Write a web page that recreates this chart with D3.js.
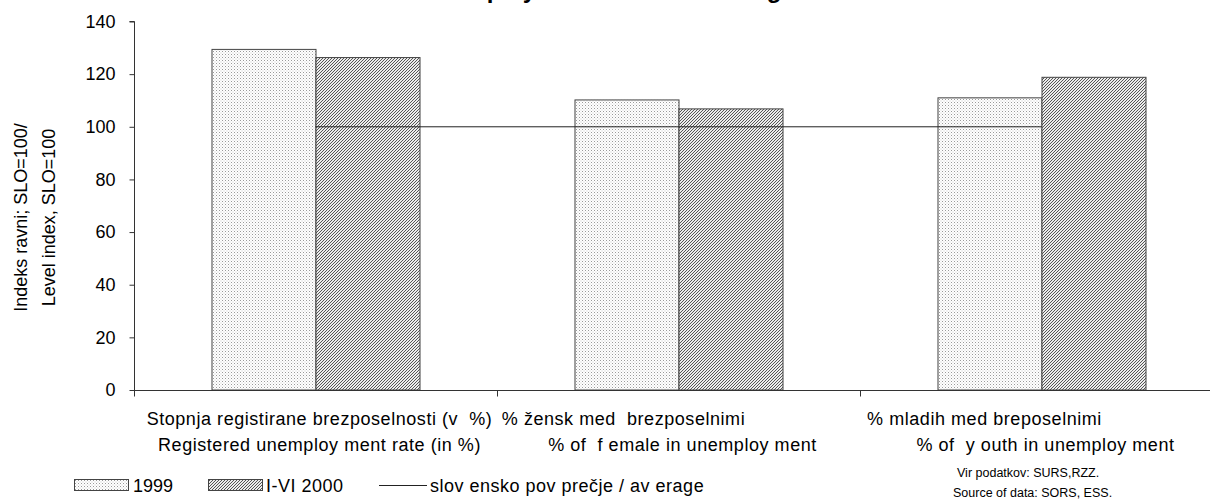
<!DOCTYPE html>
<html>
<head>
<meta charset="utf-8">
<script src="https://cdn.jsdelivr.net/npm/d3@7/dist/d3.min.js"></script>
<style>
  html, body { margin: 0; padding: 0; background: #fff; }
  svg { display: block; font-family: Arial, "Liberation Sans", sans-serif; }
  text { white-space: pre; }
</style>
</head>
<body>
<svg id="chart" width="1210" height="502"></svg>
<script>
// ---- data ----
const categories = ["stopnja", "zenske", "mladi"];
const labelsLine1 = [
  "Stopnja registirane brezposelnosti (v  %)",
  "% žensk med  brezposelnimi",
  "% mladih med breposelnimi"
];
const labelsLine2 = [
  "Registered unemploy ment rate (in %)",
  "% of  f emale in unemploy ment",
  "% of  y outh in unemploy ment"
];
const seriesNames = ["1999", "I-VI 2000"];
const values1999 = [129.4, 110.2, 111.0];
const values2000 = [126.3, 106.8, 118.8];
const averageValues = [100, 100, 100];
const yTicks = [0, 20, 40, 60, 80, 100, 120, 140];
const averageLabel = "slov ensko pov prečje / av erage";
const yTitle1 = "Indeks ravni; SLO=100/";
const yTitle2 = "Level index, SLO=100";
const titleText = "Unemployment in the Drava region";
const source1 = "Vir podatkov: SURS,RZZ.";
const source2 = "Source of data: SORS, ESS.";

// ---- layout ----
const svg = d3.select("#chart");
const mLeft = 134, mTop = 21.5, mBottom = 390;
const catW = 363;
const mRight = mLeft + catW * categories.length;
// first label lines of the 2nd and 3rd category sit left of centre in the reference
const line1Shift = [4, -55, -57];

const defs = svg.append("defs");
const dots = defs.append("pattern").attr("id", "dots").attr("patternUnits", "userSpaceOnUse")
  .attr("width", 3).attr("height", 3);
dots.append("rect").attr("width", 3).attr("height", 3).attr("fill", "#fff");
dots.append("rect").attr("x", 0).attr("y", 0).attr("width", 1).attr("height", 1).attr("fill", "#9a9a9a");
dots.append("rect").attr("x", 1.5).attr("y", 1.5).attr("width", 1).attr("height", 1).attr("fill", "#c8c8c8");

const hatch = defs.append("pattern").attr("id", "hatch").attr("patternUnits", "userSpaceOnUse")
  .attr("width", 3).attr("height", 3);
hatch.append("rect").attr("width", 3).attr("height", 3).attr("fill", "#ececec");
hatch.append("path").attr("d", "M-1,1 L1,-1 M0,3 L3,0 M2,4 L4,2")
  .attr("stroke", "#555").attr("stroke-width", 1);

const x = d3.scaleBand().domain(categories).range([mLeft, mRight]).paddingInner(0).paddingOuter(0);
const x1 = d3.scaleBand().domain(seriesNames).range([0, x.bandwidth()]).paddingInner(0).paddingOuter(0.745);
const y = d3.scaleLinear().domain([0, 140]).range([mBottom, mTop]);

// title (cut off at the top, as in the reference)
svg.append("text").attr("x", 420).attr("y", -2).attr("font-size", 24).attr("font-weight", "bold")
  .attr("fill", "#000").text(titleText);

// bars
const seriesData = [values1999, values2000];
const fills = ["url(#dots)", "url(#hatch)"];
seriesNames.forEach((s, si) => {
  svg.append("g").selectAll("rect").data(categories).join("rect")
    .attr("x", (c) => x(c) + x1(s) + 0.5)
    .attr("y", (c, i) => y(seriesData[si][i]))
    .attr("width", x1.bandwidth())
    .attr("height", (c, i) => y(0) - y(seriesData[si][i]))
    .attr("fill", fills[si])
    .attr("stroke", "#444").attr("stroke-width", 1);
});

// average line
const line = d3.line().x((d, i) => x(categories[i]) + x.bandwidth() / 2).y((d) => y(d));
svg.append("path").datum(averageValues).attr("d", line)
  .attr("fill", "none").attr("stroke", "#222").attr("stroke-width", 1);

// y axis
const yAxis = svg.append("g").attr("transform", `translate(${mLeft + 0.5},0)`)
  .call(d3.axisLeft(y).tickValues(yTicks).tickSize(5).tickPadding(14));
yAxis.select(".domain").attr("stroke", "#333").attr("d", `M-5,${y(140)}H0V${mBottom + 6}`);
yAxis.selectAll(".tick line").attr("stroke", "#333");
yAxis.selectAll(".tick text").attr("font-size", 18).attr("fill", "#000")
  .attr("font-family", "Arial, 'Liberation Sans', sans-serif");

// x axis
const xAxisG = svg.append("g").attr("transform", `translate(0,${mBottom + 0.5})`);
xAxisG.append("line").attr("x1", mLeft).attr("x2", mRight).attr("stroke", "#333");
xAxisG.selectAll("line.tk").data(categories).join("line").attr("class", "tk")
  .attr("x1", (c) => x(c) + 0.5).attr("x2", (c) => x(c) + 0.5)
  .attr("y1", 0).attr("y2", 6).attr("stroke", "#333");

// category labels
svg.append("g").selectAll("text").data(categories).join("text")
  .attr("x", (c, i) => x(c) + x.bandwidth() / 2 + line1Shift[i]).attr("y", 425)
  .attr("text-anchor", "middle").attr("font-size", 18).attr("letter-spacing", 0.55).attr("fill", "#000")
  .text((c, i) => labelsLine1[i]);
svg.append("g").selectAll("text").data(categories).join("text")
  .attr("x", (c) => x(c) + x.bandwidth() / 2 + 4).attr("y", 451)
  .attr("text-anchor", "middle").attr("font-size", 18).attr("letter-spacing", 0.55).attr("fill", "#000")
  .text((c, i) => labelsLine2[i]);

// y title
const yt = svg.append("g").attr("transform", "translate(0,217.5) rotate(-90)");
yt.append("text").attr("x", 0).attr("y", 27).attr("text-anchor", "middle").attr("font-size", 18).text(yTitle1);
yt.append("text").attr("x", 0).attr("y", 55).attr("text-anchor", "middle").attr("font-size", 18).text(yTitle2);

// legend
const lg = svg.append("g");
lg.append("rect").attr("x", 74.5).attr("y", 479.5).attr("width", 54).attr("height", 11)
  .attr("fill", "url(#dots)").attr("stroke", "#444");
lg.append("text").attr("x", 133).attr("y", 492).attr("font-size", 18).text(seriesNames[0]);
lg.append("rect").attr("x", 208.5).attr("y", 479.5).attr("width", 54).attr("height", 11)
  .attr("fill", "url(#hatch)").attr("stroke", "#444");
lg.append("text").attr("x", 266).attr("y", 492).attr("font-size", 18).attr("letter-spacing", 0.5).text(seriesNames[1]);
lg.append("line").attr("x1", 379).attr("x2", 427).attr("y1", 485.5).attr("y2", 485.5)
  .attr("stroke", "#222");
lg.append("text").attr("x", 430).attr("y", 492).attr("font-size", 18).attr("letter-spacing", 0.5).text(averageLabel);

// source
svg.append("text").attr("x", 957).attr("y", 477).attr("font-size", 12.5).text(source1);
svg.append("text").attr("x", 953).attr("y", 497).attr("font-size", 12.5).text(source2);
</script>
</body>
</html>
